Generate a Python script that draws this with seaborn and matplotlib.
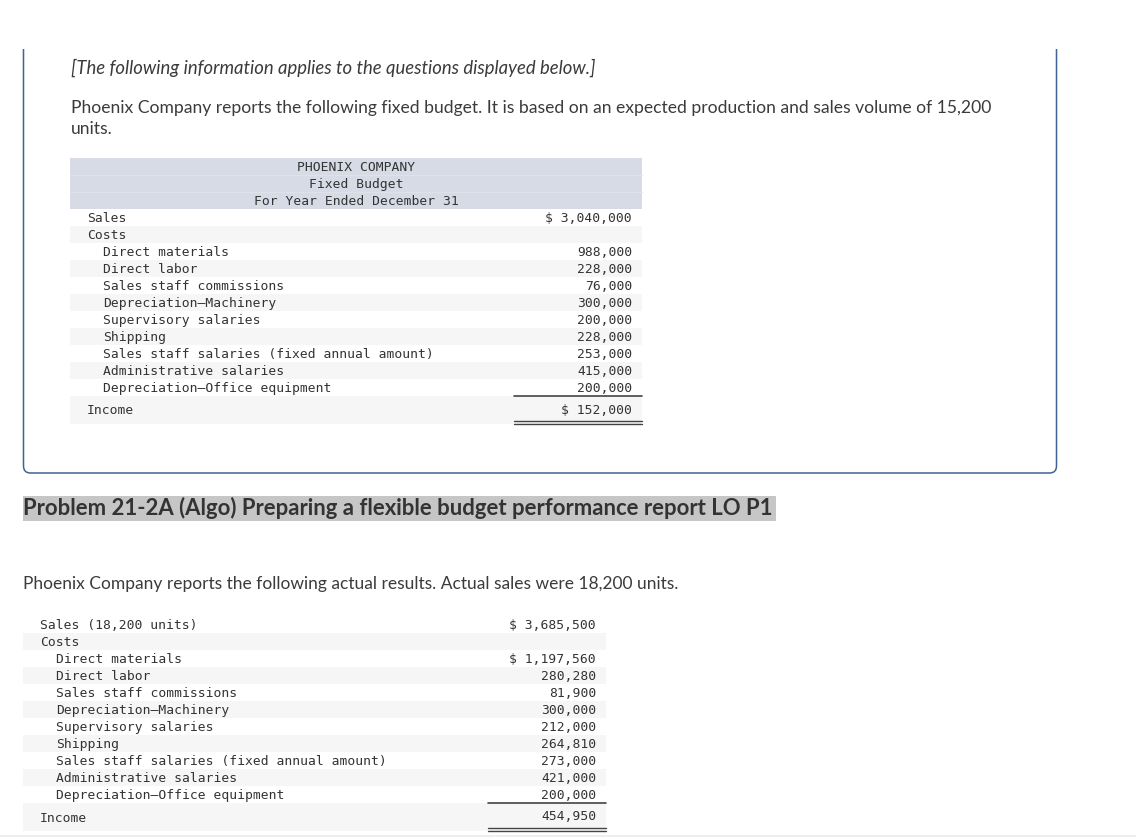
import matplotlib
matplotlib.use('Agg')
import matplotlib.pyplot as plt
from matplotlib.patches import PathPatch, Rectangle
from matplotlib.path import Path
import seaborn as sns

# ---------- data ----------
header_lines = ['PHOENIX COMPANY', 'Fixed Budget', 'For Year Ended December 31']
budget_labels = ['Sales', 'Costs', 'Direct materials', 'Direct labor', 'Sales staff commissions',
                 'Depreciation\u2014Machinery', 'Supervisory salaries', 'Shipping',
                 'Sales staff salaries (fixed annual amount)', 'Administrative salaries',
                 'Depreciation\u2014Office equipment', 'Income']
budget_values = ['$ 3,040,000', '', '988,000', '228,000', '76,000', '300,000', '200,000',
                 '228,000', '253,000', '415,000', '200,000', '$ 152,000']
actual_labels = ['Sales (18,200 units)'] + budget_labels[1:]
actual_values = ['$ 3,685,500', '', '$ 1,197,560', '280,280', '81,900', '300,000', '212,000',
                 '264,810', '273,000', '421,000', '200,000', '454,950']
indented = [False, False] + [True] * 9 + [False]

intro = '[The following information applies to the questions displayed below.]'
para_1 = 'Phoenix Company reports the following fixed budget. It is based on an expected production and sales volume of 15,200'
para_2 = 'units.'
heading = 'Problem 21-2A (Algo) Preparing a flexible budget performance report LO P1'
para_3 = 'Phoenix Company reports the following actual results. Actual sales were 18,200 units.'

# ---------- layout ----------
BORDER = '#3f6493'
INK = '#3b3b3b'
BAND = '#f6f6f6'
HEAD = '#d7dbe6'
ROW = 17
BODY = 12.6
MONO = 9.4

sns.set_theme(style='white')
plt.rcParams['font.family'] = ['Lato', 'DejaVu Sans']

fig = plt.figure(figsize=(11.36, 8.39), dpi=100)
ax = fig.add_axes([0, 0, 1, 1])
ax.set_xlim(0, 1136)
ax.set_ylim(839, 0)
ax.axis('off')


def money_table(labels, values, left, right, rule_left, top):
    # 11 plain rows, then a taller income row
    for i, (lab, val) in enumerate(zip(labels, values)):
        y = top + ROW * i
        if i == 11:
            ax.add_patch(Rectangle((left, y), right - left, 28, color=BAND, lw=0, zorder=1))
            y += 5.5
        elif i % 2 == 1:
            ax.add_patch(Rectangle((left, y), right - left, ROW, color=BAND, lw=0, zorder=1))
        x = left + (33 if indented[i] else 17)
        ax.text(x, y + ROW / 2 + 1, lab, family='DejaVu Sans Mono', fontsize=MONO, color='#333333',
                va='center', ha='left', zorder=3)
        ax.text(right - 10, y + ROW / 2 + (0 if i == 11 else 1), val, family='DejaVu Sans Mono',
                fontsize=MONO, color='#333333', va='center', ha='right', zorder=3)
    rule_y = top + ROW * 11
    ax.plot([rule_left, right], [rule_y, rule_y], color='#444444', lw=1.2, zorder=2)
    ax.plot([rule_left, right], [rule_y + 25, rule_y + 25], color='#444444', lw=1.0, zorder=2)
    ax.plot([rule_left, right], [rule_y + 27.5, rule_y + 27.5], color='#444444', lw=1.0, zorder=2)


# panel outline, open at the top
x0, x1, y0, y1, r = 23.5, 1056.5, 49, 473, 7
verts = [(x0, y0), (x0, y1 - r), (x0, y1), (x0 + r, y1), (x1 - r, y1), (x1, y1), (x1, y1 - r), (x1, y0)]
codes = [Path.MOVETO, Path.LINETO, Path.CURVE3, Path.CURVE3, Path.LINETO, Path.CURVE3, Path.CURVE3, Path.LINETO]
ax.add_patch(PathPatch(Path(verts, codes), fill=False, edgecolor=BORDER, lw=1.1))

ax.text(71, 67.5, intro, fontsize=13.35, style='italic', color=INK, va='center')
ax.text(71, 108, para_1, fontsize=BODY, color=INK, va='center')
ax.text(71, 128.5, para_2, fontsize=BODY, color=INK, va='center')

# fixed budget table
ax.add_patch(Rectangle((70, 158), 572, 51, color=HEAD, lw=0, zorder=1))
for i, line in enumerate(header_lines):
    ax.text(356, 158 + ROW * i + ROW / 2 + 1, line, family='DejaVu Sans Mono', fontsize=MONO,
            color='#333333', ha='center', va='center', zorder=3)
    if i:
        ax.plot([70, 642], [158 + ROW * i, 158 + ROW * i], color='#dfe2eb', lw=0.8, zorder=2)
money_table(budget_labels, budget_values, 70, 642, 514, 209)

# heading
ax.add_patch(Rectangle((23, 496), 753, 25, color='#c6c6c6', lw=0))
ax.text(23, 508, heading, fontsize=15.9, fontweight='bold', color='#333333', va='center')

ax.text(23, 584, para_3, fontsize=12.5, color=INK, va='center')

# actual results table
money_table(actual_labels, actual_values, 23, 606, 488, 616)

ax.plot([0, 1136], [835.5, 835.5], color='#eeeeee', lw=1.5)

fig.savefig('out.png', dpi=100)
